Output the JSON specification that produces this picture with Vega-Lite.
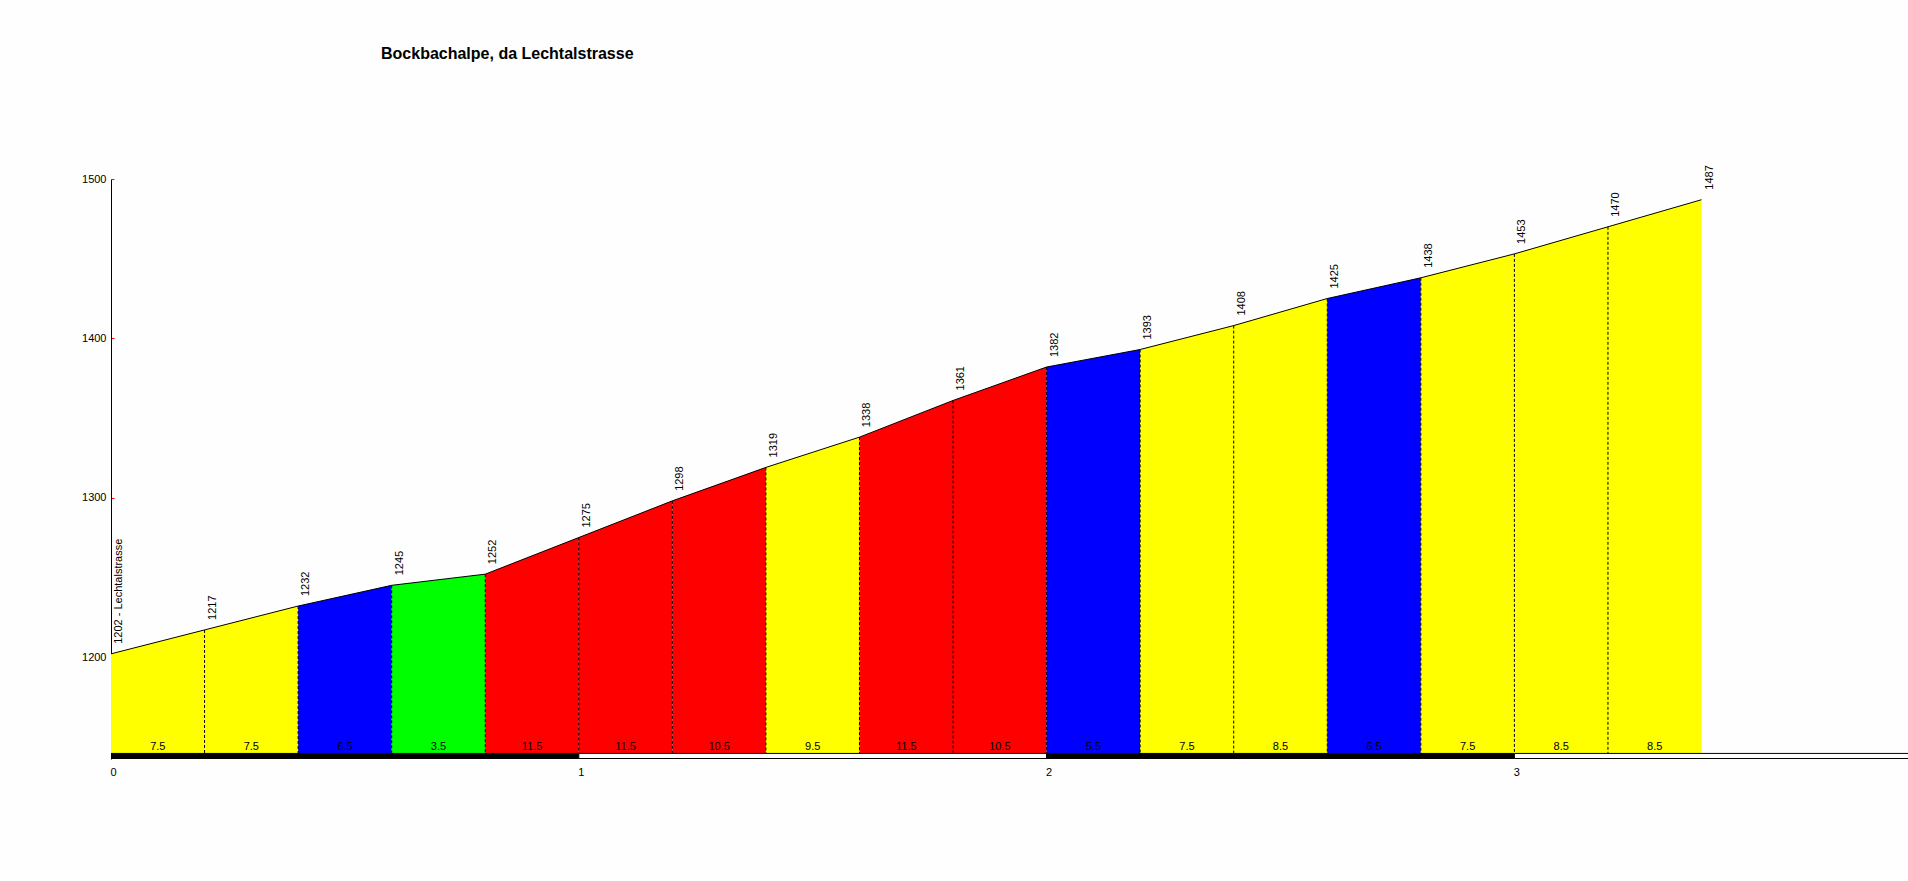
{
  "$schema": "https://vega.github.io/schema/vega-lite/v6.json",
  "width": 1797,
  "height": 580,
  "autosize": {"type": "none"},
  "padding": {"left": 111, "top": 179, "right": 0, "bottom": 122},
  "background": "#fefefe",
  "title": {
    "text": "Bockbachalpe, da Lechtalstrasse",
    "anchor": "start",
    "frame": "group",
    "dx": 270,
    "offset": 90,
    "baseline": "alphabetic",
    "fontSize": 16,
    "fontWeight": "bold",
    "font": "Liberation Sans",
    "color": "black"
  },
  "config": {"view": {"stroke": null}, "font": "Liberation Sans"},
  "datasets": {
    "points": [
      {"km": 0, "ele": 1202, "label": "1202 - Lechtalstrasse"},
      {"km": 0.2, "ele": 1217, "label": "1217"},
      {"km": 0.4, "ele": 1232, "label": "1232"},
      {"km": 0.6, "ele": 1245, "label": "1245"},
      {"km": 0.8, "ele": 1252, "label": "1252"},
      {"km": 1, "ele": 1275, "label": "1275"},
      {"km": 1.2, "ele": 1298, "label": "1298"},
      {"km": 1.4, "ele": 1319, "label": "1319"},
      {"km": 1.6, "ele": 1338, "label": "1338"},
      {"km": 1.8, "ele": 1361, "label": "1361"},
      {"km": 2, "ele": 1382, "label": "1382"},
      {"km": 2.2, "ele": 1393, "label": "1393"},
      {"km": 2.4, "ele": 1408, "label": "1408"},
      {"km": 2.6, "ele": 1425, "label": "1425"},
      {"km": 2.8, "ele": 1438, "label": "1438"},
      {"km": 3, "ele": 1453, "label": "1453"},
      {"km": 3.2, "ele": 1470, "label": "1470"},
      {"km": 3.4, "ele": 1487, "label": "1487"}
    ],
    "segs": [
      {"seg": 1, "km": [0, 0.2], "ele": [1202, 1217], "grade": 7.5, "cls": "7-10"},
      {"seg": 2, "km": [0.2, 0.4], "ele": [1217, 1232], "grade": 7.5, "cls": "7-10"},
      {"seg": 3, "km": [0.4, 0.6], "ele": [1232, 1245], "grade": 6.5, "cls": "5-7"},
      {"seg": 4, "km": [0.6, 0.8], "ele": [1245, 1252], "grade": 3.5, "cls": "0-5"},
      {"seg": 5, "km": [0.8, 1], "ele": [1252, 1275], "grade": 11.5, "cls": "10+"},
      {"seg": 6, "km": [1, 1.2], "ele": [1275, 1298], "grade": 11.5, "cls": "10+"},
      {"seg": 7, "km": [1.2, 1.4], "ele": [1298, 1319], "grade": 10.5, "cls": "10+"},
      {"seg": 8, "km": [1.4, 1.6], "ele": [1319, 1338], "grade": 9.5, "cls": "7-10"},
      {"seg": 9, "km": [1.6, 1.8], "ele": [1338, 1361], "grade": 11.5, "cls": "10+"},
      {"seg": 10, "km": [1.8, 2], "ele": [1361, 1382], "grade": 10.5, "cls": "10+"},
      {"seg": 11, "km": [2, 2.2], "ele": [1382, 1393], "grade": 5.5, "cls": "5-7"},
      {"seg": 12, "km": [2.2, 2.4], "ele": [1393, 1408], "grade": 7.5, "cls": "7-10"},
      {"seg": 13, "km": [2.4, 2.6], "ele": [1408, 1425], "grade": 8.5, "cls": "7-10"},
      {"seg": 14, "km": [2.6, 2.8], "ele": [1425, 1438], "grade": 6.5, "cls": "5-7"},
      {"seg": 15, "km": [2.8, 3], "ele": [1438, 1453], "grade": 7.5, "cls": "7-10"},
      {"seg": 16, "km": [3, 3.2], "ele": [1453, 1470], "grade": 8.5, "cls": "7-10"},
      {"seg": 17, "km": [3.2, 3.4], "ele": [1470, 1487], "grade": 8.5, "cls": "7-10"}
    ],
    "bands": [
      {"from": 0, "to": 1, "shade": "dark"},
      {"from": 1, "to": 2, "shade": "light"},
      {"from": 2, "to": 3, "shade": "dark"},
      {"from": 3, "to": 4, "shade": "light"}
    ]
  },
  "layer": [
    {
      "data": {"name": "segs"},
      "transform": [{"flatten": ["km", "ele"]}],
      "mark": {"type": "area", "interpolate": "linear"},
      "encoding": {
        "x": {
          "field": "km", "type": "quantitative",
          "scale": {"domain": [0, 3.8414], "nice": false, "zero": false},
          "axis": {
            "values": [0, 1, 2, 3], "format": "d", "grid": false, "domain": false, "ticks": false,
            "labelPadding": 7, "labelFontSize": 11, "labelColor": "black", "labelAlign": "center",
            "labelOffset": 2, "labelFlush": false, "title": null, "labelFont": "Liberation Sans"
          }
        },
        "y": {
          "field": "ele", "type": "quantitative", "stack": null,
          "scale": {"domain": [1136, 1500], "nice": false, "zero": false},
          "axis": {
            "values": [1200, 1300, 1400, 1500], "format": "d", "grid": false,
            "domainColor": "black", "domainWidth": 1, "tickColor": "#ff0000", "tickSize": -3,
            "labelPadding": 8, "labelFontSize": 11, "labelColor": "black", "title": null,
            "labelFont": "Liberation Sans", "labelFlush": false
          }
        },
        "y2": {"datum": 1139.5},
        "color": {
          "field": "cls", "type": "nominal",
          "scale": {"domain": ["0-5", "5-7", "7-10", "10+"], "range": ["#00ff00", "#0000ff", "#ffff00", "#ff0000"]},
          "legend": null
        },
        "detail": {"field": "seg", "type": "nominal"}
      }
    },
    {
      "data": {"name": "points"},
      "transform": [{"filter": "datum.km > 0 && datum.km < 3.4"}],
      "mark": {"type": "rule", "strokeDash": [3, 2], "color": "black", "strokeWidth": 1},
      "encoding": {
        "x": {"field": "km", "type": "quantitative"},
        "y": {"field": "ele", "type": "quantitative"},
        "y2": {"datum": 1139.5}
      }
    },
    {
      "data": {"name": "points"},
      "mark": {"type": "line", "color": "black", "strokeWidth": 1},
      "encoding": {
        "x": {"field": "km", "type": "quantitative"},
        "y": {"field": "ele", "type": "quantitative"}
      }
    },
    {
      "data": {"name": "bands"},
      "mark": {"type": "rect", "stroke": "black", "strokeWidth": 1, "clip": true},
      "encoding": {
        "x": {"field": "from", "type": "quantitative"},
        "x2": {"field": "to"},
        "y": {"datum": 1136.3},
        "y2": {"datum": 1139.5},
        "fill": {"condition": {"test": "datum.shade == 'dark'", "value": "black"}, "value": "white"}
      }
    },
    {
      "data": {"name": "points"},
      "mark": {"type": "text", "angle": 270, "align": "left", "baseline": "top", "dx": 10, "dy": 2, "fontSize": 11, "font": "Liberation Sans", "color": "black"},
      "encoding": {
        "x": {"field": "km", "type": "quantitative"},
        "y": {"field": "ele", "type": "quantitative"},
        "text": {"field": "label", "type": "nominal"}
      }
    },
    {
      "data": {"name": "segs"},
      "transform": [
        {"flatten": ["km"], "as": ["kmv"]},
        {"aggregate": [{"op": "mean", "field": "kmv", "as": "mid"}], "groupby": ["seg", "grade"]}
      ],
      "mark": {"type": "text", "baseline": "middle", "align": "center", "fontSize": 11, "font": "Liberation Sans", "color": "black"},
      "encoding": {
        "x": {"field": "mid", "type": "quantitative"},
        "y": {"datum": 1143.3},
        "text": {"field": "grade", "type": "quantitative", "format": ".1f"}
      }
    }
  ]
}
